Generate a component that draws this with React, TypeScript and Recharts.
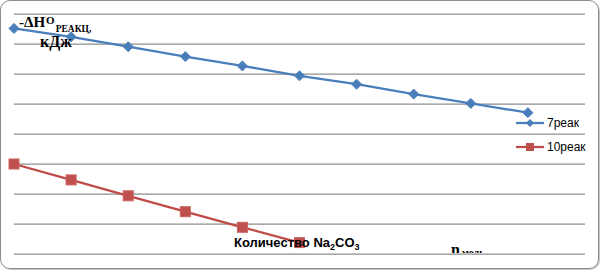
import { LineChart, Line, XAxis, YAxis, CartesianGrid } from "recharts"

const steps = [1, 2, 3, 4, 5, 6, 7, 8, 9, 10]
const reac7 = [75.2, 72.4, 69.1, 65.8, 62.7, 59.4, 56.6, 53.3, 50.2, 47.1]
const reac10 = [30.0, 24.7, 19.4, 14.1, 8.9, 3.8]
const yTicks = [0, 10, 20, 30, 40, 50, 60, 70, 80]
const seriesNames = ["7реак", "10реак"]

const BLUE = "#4a7ebb"
const RED = "#be4b48"

const data7 = steps.map((n, i) => ({ n, v: reac7[i] }))
const data10 = reac10.map((v, i) => ({ n: steps[i], v }))

const Diamond = (props: any) => {
  const { cx, cy, index } = props
  if (cx == null || cy == null) return null
  const r = 5
  return (
    <path
      key={`d-${index}`}
      d={`M${cx},${cy - r}L${cx + r},${cy}L${cx},${cy + r}L${cx - r},${cy}Z`}
      fill={BLUE}
      stroke={BLUE}
      strokeWidth={1}
    />
  )
}

const Square = (props: any) => {
  const { cx, cy, index } = props
  if (cx == null || cy == null) return null
  const s = 10
  return (
    <rect
      key={`s-${index}`}
      x={cx - s / 2}
      y={cy - s / 2}
      width={s}
      height={s}
      fill="#c0504d"
      stroke="#c9625f"
      strokeWidth={1}
    />
  )
}

function LegendBox() {
  return (
    <div style={{ position: "absolute", left: 516, top: 111 }}>
      {seriesNames.map((name, i) => (
        <div key={name} style={{ display: "flex", alignItems: "center", height: 24 }}>
          <svg width={31} height={12}>
            <line x1={0} y1={6} x2={28} y2={6} stroke={i === 0 ? BLUE : RED} strokeWidth={2.25} />
            {i === 0 ? (
              <path d="M14,2L18,6L14,10L10,6Z" fill={BLUE} />
            ) : (
              <rect x={10} y={2} width={8} height={8} fill="#c0504d" />
            )}
          </svg>
          <span style={{ fontFamily: "'Liberation Sans', Arial, sans-serif", fontSize: 12, color: "#000" }}>
            {name}
          </span>
        </div>
      ))}
    </div>
  )
}

export default function App() {
  return (
    <div style={{ position: "absolute", left: 0, top: 0, width: 600, height: 270, background: "#fff" }}>
      <LineChart width={600} height={270} margin={{ top: 14, right: 15, bottom: 16, left: 14 }}>
        <CartesianGrid vertical={false} stroke="#8d8d8d" strokeWidth={1.25} />
        <XAxis type="number" dataKey="n" domain={[1, 11]} hide />
        <YAxis type="number" domain={[0, 80]} ticks={yTicks} hide />
        <Line
          data={data7}
          dataKey="v"
          name={seriesNames[0]}
          stroke={BLUE}
          strokeWidth={2.25}
          dot={Diamond}
          activeDot={false}
          isAnimationActive={false}
        />
        <Line
          data={data10}
          dataKey="v"
          name={seriesNames[1]}
          stroke={RED}
          strokeWidth={2.25}
          dot={Square}
          activeDot={false}
          isAnimationActive={false}
        />
      </LineChart>

      <LegendBox />

      <svg
        width={600}
        height={270}
        style={{ position: "absolute", left: 0, top: 0, pointerEvents: "none" }}
      >
        <defs>
          <clipPath id="cutN">
            <rect x={0} y={0} width={600} height={253} />
          </clipPath>
        </defs>
        <g fontFamily="'Liberation Serif', 'Times New Roman', serif" fontWeight="bold" fill="#000">
          <text x={19} y={27} fontSize={15}>
            -ΔH
            <tspan fontSize={11} dx={1} dy={-3}>O</tspan>
            <tspan fontSize={9.5} dx={1} dy={8}>РЕАКЦ,</tspan>
          </text>
          <text x={40} y={47} fontSize={16}>
            кДж
          </text>
          <g clipPath="url(#cutN)">
            <text x={451} y={255} fontSize={16}>
              n
            </text>
            <text x={462} y={256} fontSize={10}>
              моль
            </text>
          </g>
        </g>
        <text
          x={234}
          y={247}
          fontFamily="'Liberation Sans', Arial, sans-serif"
          fontWeight="bold"
          fontSize={13}
          fill="#000"
        >
          Количество Na
          <tspan fontSize={9} dy={3}>2</tspan>
          <tspan dy={-3}>CO</tspan>
          <tspan fontSize={9} dy={3}>3</tspan>
        </text>
      </svg>

      <div
        style={{
          position: "absolute",
          left: 0,
          top: 0,
          width: 599,
          height: 269,
          boxSizing: "border-box",
          border: "1.5px solid #8c8c8c",
          borderRadius: 10,
          boxShadow: "1px 1px 1px rgba(0,0,0,0.25)",
          pointerEvents: "none",
        }}
      />
    </div>
  )
}
